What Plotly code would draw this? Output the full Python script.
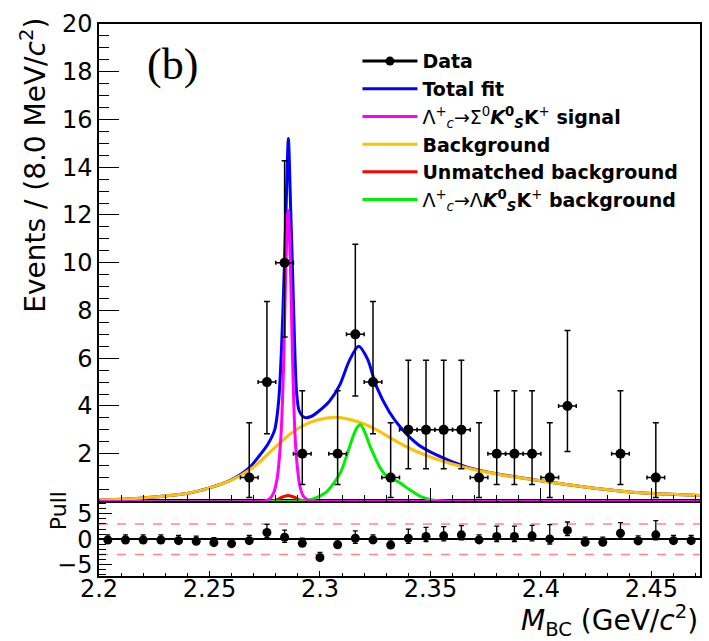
import plotly.graph_objects as go

# ---------------- data ----------------
bin_half_width = 0.004
bin_centers = [2.204, 2.212, 2.220, 2.228, 2.236, 2.244, 2.252, 2.260, 2.268, 2.276,
               2.284, 2.292, 2.300, 2.308, 2.316, 2.324, 2.332, 2.340, 2.348, 2.356,
               2.364, 2.372, 2.380, 2.388, 2.396, 2.404, 2.412, 2.420, 2.428, 2.436,
               2.444, 2.452, 2.460, 2.468]
counts = [0, 0, 0, 0, 0, 0, 0, 0, 1, 5,
          10, 2, 0, 2, 7, 5, 1, 3, 3, 3,
          3, 1, 2, 2, 2, 1, 4, 0, 0, 2,
          0, 1, 0, 0]
err_low = [0, 0, 0, 0, 0, 0, 0, 0, 0.83, 2.16,
           3.11, 1.29, 0, 1.29, 2.58, 2.16, 0.83, 1.63, 1.63, 1.63,
           1.63, 0.83, 1.29, 1.29, 1.29, 0.83, 1.91, 0, 0, 1.29,
           0, 0.83, 0, 0]
err_high = [0, 0, 0, 0, 0, 0, 0, 0, 2.30, 3.38,
            4.27, 2.64, 0, 2.64, 3.77, 3.38, 2.30, 2.92, 2.92, 2.92,
            2.92, 2.30, 2.64, 2.64, 2.64, 2.30, 3.16, 0, 0, 2.64,
            0, 2.30, 0, 0]

pulls = [-0.15, -0.15, -0.15, -0.15, -0.27, -0.40, -0.67, -0.87, -0.27, 1.33,
         0.40, -0.80, -3.60, -1.07, 0.20, -0.13, -1.13, 0.20, 0.53, 0.67,
         0.87, -0.13, 0.53, 0.53, 0.67, 0.07, 1.73, -0.60, -0.60, 1.20,
         -0.33, 0.87, -0.27, -0.27]
pull_err_up = [1, 1, 1, 1, 1, 1, 1, 1, 1, 1.57,
               1.37, 1, 1, 1, 1.46, 1, 1, 1.79, 1.79, 1.79,
               1.79, 1, 2.04, 2.04, 2.04, 2.78, 1.65, 1, 1, 2.04,
               1, 2.78, 1, 1]
pull_err_down = [0, 0, 0, 0, 0, 0, 0, 0, 0.36, 1,
                 1, 0.49, 0, 0.49, 1, 0.64, 0.36, 1, 1, 1,
                 1, 0.36, 1, 1, 1, 1, 1, 0, 0, 1,
                 0, 1, 0, 0]
pull_bands = [-3, 3]

# fit curves
total_x = [2.2003, 2.2198, 2.2395, 2.2500, 2.2591, 2.2681, 2.2720, 2.2764, 2.2795, 2.2813,
           2.2826, 2.2837, 2.2847, 2.2857, 2.2867, 2.2877, 2.2886, 2.2894, 2.2906, 2.2930,
           2.2960, 2.2990, 2.3043, 2.3088, 2.3133, 2.3175, 2.3216, 2.3254, 2.3314, 2.3374,
           2.3442, 2.3527, 2.3662, 2.3811, 2.3960, 2.4114, 2.4263, 2.4412, 2.4566, 2.4720]
total_y = [0.07, 0.15, 0.33, 0.57, 0.87, 1.42, 1.85, 2.40, 3.00, 4.20,
           6.40, 9.30, 12.4, 15.2, 12.4, 9.30, 6.40, 4.60, 3.80, 3.52,
           3.56, 3.75, 4.20, 4.85, 5.90, 6.50, 5.95, 4.85, 3.75, 3.00,
           2.40, 1.95, 1.45, 1.14, 0.92, 0.71, 0.53, 0.39, 0.31, 0.25]

bkg_x = [2.2003, 2.2198, 2.2395, 2.2500, 2.2591, 2.2681, 2.2726, 2.2772, 2.2862, 2.2952,
         2.3065, 2.3165, 2.3255, 2.3345, 2.3436, 2.3526, 2.3662, 2.3811, 2.3960, 2.4114,
         2.4263, 2.4412, 2.4566, 2.4720]
bkg_y = [0.07, 0.15, 0.33, 0.57, 0.86, 1.32, 1.65, 2.05, 2.80, 3.30,
         3.53, 3.36, 3.01, 2.52, 2.10, 1.78, 1.41, 1.13, 0.92, 0.71,
         0.53, 0.39, 0.31, 0.25]

sig_x = [2.2000, 2.2700, 2.2750, 2.2770, 2.2790, 2.2806, 2.2816, 2.2826, 2.2836, 2.2846,
         2.2856, 2.2866, 2.2876, 2.2886, 2.2896, 2.2908, 2.2923, 2.2945, 2.2975, 2.3050,
         2.4720]
sig_y = [0, 0, 0.02, 0.10, 0.35, 0.95, 1.80, 3.20, 5.90, 10.0,
         12.2, 10.0, 5.90, 3.00, 1.60, 0.70, 0.25, 0.06, 0.01, 0,
         0]

unm_x = [2.2000, 2.2700, 2.2770, 2.2800, 2.2826, 2.2856, 2.2886, 2.2912, 2.2940, 2.3050,
         2.4720]
unm_y = [0, 0, 0.005, 0.05, 0.17, 0.25, 0.17, 0.05, 0.005, 0,
         0]

lam_x = [2.2000, 2.2800, 2.2907, 2.2965, 2.3025, 2.3065, 2.3095, 2.3120, 2.3145, 2.3165,
         2.3183, 2.3205, 2.3225, 2.3240, 2.3270, 2.3300, 2.3359, 2.3405, 2.3463, 2.3517,
         2.3585, 2.3700, 2.4720]
lam_y = [0, 0, 0.02, 0.10, 0.37, 0.80, 1.25, 1.90, 2.60, 3.05,
         3.22, 2.85, 2.35, 2.04, 1.45, 1.08, 0.80, 0.50, 0.18, 0.05,
         0.01, 0, 0]

x_tickvals = [2.2, 2.25, 2.3, 2.35, 2.4, 2.45]
x_ticktext = ["2.2", "2.25", "2.3", "2.35", "2.4", "2.45"]
main_ytickvals = [2, 4, 6, 8, 10, 12, 14, 16, 18, 20]
pull_ytickvals = [-5, 0, 5]

# ---------------- figure ----------------
FONT = "DejaVu Sans, Liberation Sans, Arial"
fig = go.Figure()

curve_specs = [
    (total_x, total_y, "#0000ff", "<b>Total fit</b>", 2),
    (bkg_x, bkg_y, "#ffc000", "<b>Background</b>", 4),
    (unm_x, unm_y, "#ff0000", "<b>Unmatched background</b>", 5),
    (lam_x, lam_y, "#00ee00",
     "Λ<sup>+</sup><sub><i>c</i></sub>→Λ<b><i>K</i></b><sup><b>0</b></sup><sub><b><i>S</i></b></sub><b>K</b><sup>+</sup><b> background</b>", 6),
    (sig_x, sig_y, "#ff00ff",
     "Λ<sup>+</sup><sub><i>c</i></sub>→Σ<sup>0</sup><b><i>K</i></b><sup><b>0</b></sup><sub><b><i>S</i></b></sub><b>K</b><sup>+</sup><b> signal</b>", 3),
]
for xs, ys, col, name, rank in curve_specs:
    fig.add_trace(go.Scatter(x=xs, y=ys, mode="lines", name=name, legendrank=rank,
                             line=dict(color=col, width=3, shape="spline", smoothing=0.8),
                             xaxis="x2", yaxis="y2", hoverinfo="skip"))

main_y = [c if c > 0 else None for c in counts]
fig.add_trace(go.Scatter(
    x=bin_centers, y=main_y, mode="markers", showlegend=False,
    marker=dict(color="black", size=10),
    error_y=dict(type="data", symmetric=False, array=err_high, arrayminus=err_low,
                 color="black", thickness=1.5, width=3),
    error_x=dict(type="constant", value=bin_half_width, color="black", thickness=1.5, width=2),
    xaxis="x2", yaxis="y2"))
# legend entry for data
fig.add_trace(go.Scatter(x=[None], y=[None], mode="lines+markers", name="<b>Data</b>",
                         legendrank=1, line=dict(color="black", width=3),
                         marker=dict(color="black", size=9), xaxis="x2", yaxis="y2"))

# pull panel
fig.add_trace(go.Scatter(
    x=bin_centers, y=pulls, mode="markers", showlegend=False,
    marker=dict(color="black", size=9),
    error_y=dict(type="data", symmetric=False, array=pull_err_up, arrayminus=pull_err_down,
                 color="black", thickness=1.3, width=2.5),
    xaxis="x", yaxis="y"))
for b in pull_bands:
    fig.add_shape(type="line", xref="paper", x0=0, x1=1, yref="y", y0=b, y1=b,
                  line=dict(color="rgba(255,70,70,0.65)", width=1.5, dash="dash"), layer="below")

axis_common = dict(showline=True, linecolor="black", linewidth=1.5, mirror=True,
                   showgrid=False, zeroline=False, ticks="inside", tickcolor="black",
                   tickwidth=1.3, tickfont=dict(family=FONT, size=24, color="black"))
PD = 0.135
fig.update_layout(
    width=709, height=641, autosize=False,
    margin=dict(l=99, r=7, t=24, b=65, pad=0),
    paper_bgcolor="white", plot_bgcolor="white",
    showlegend=True,
    legend=dict(x=0.43, y=0.967, xanchor="left", yanchor="top", bgcolor="rgba(0,0,0,0)",
                font=dict(family=FONT, size=19, color="black"), itemwidth=55,
                traceorder="normal", tracegroupgap=0),
    xaxis=dict(axis_common, range=[2.2, 2.472], domain=[0, 1], anchor="y",
               tickmode="array", tickvals=x_tickvals, ticktext=x_ticktext, ticklen=5,
               ticklabelstandoff=-10,
               minor=dict(dtick=0.01, tick0=2.2, ticks="inside", ticklen=3, tickcolor="black", tickwidth=1.2)),
    yaxis=dict(axis_common, range=[-7.2, 7.4], domain=[0, PD], anchor="x",
               tickmode="array", tickvals=pull_ytickvals, ticklen=13,
               zeroline=True, zerolinecolor="black", zerolinewidth=1.5,
               minor=dict(dtick=1, tick0=0, ticks="inside", ticklen=7, tickcolor="black", tickwidth=1.2)),
    xaxis2=dict(axis_common, range=[2.2, 2.472], domain=[0, 1], anchor="y2", matches="x",
                showticklabels=False, tickmode="array", tickvals=x_tickvals, ticklen=14,
                minor=dict(dtick=0.01, tick0=2.2, ticks="inside", ticklen=7, tickcolor="black", tickwidth=1.2)),
    yaxis2=dict(axis_common, range=[0, 20], domain=[PD, 1], anchor="x2",
                tickmode="array", tickvals=main_ytickvals, ticklen=20,
                minor=dict(dtick=0.5, tick0=0, ticks="inside", ticklen=10, tickcolor="black", tickwidth=1.2)),
)

annots = [
    dict(text="Events / (8.0 MeV/<i>c</i><sup>2</sup>)", x=-0.109, y=0.744, textangle=-90,
         font=dict(family=FONT, size=28, color="black")),
    dict(text="<i>M</i><sub>BC</sub> (GeV/<i>c</i><sup>2</sup>)", x=1.0, y=-0.081, xanchor="right",
         font=dict(family=FONT, size=28, color="black")),
    dict(text="Pull", x=-0.066, y=0.118, textangle=-90,
         font=dict(family=FONT, size=22, color="black")),
    dict(text="(b)", x=0.123, y=0.926,
         font=dict(family="Liberation Serif, DejaVu Serif, serif", size=44, color="black")),
]
for a in annots:
    a.update(xref="paper", yref="paper", showarrow=False)
    a.setdefault("xanchor", "center")
    a.setdefault("yanchor", "middle")
    fig.add_annotation(**a)

fig.write_html("out.html")
